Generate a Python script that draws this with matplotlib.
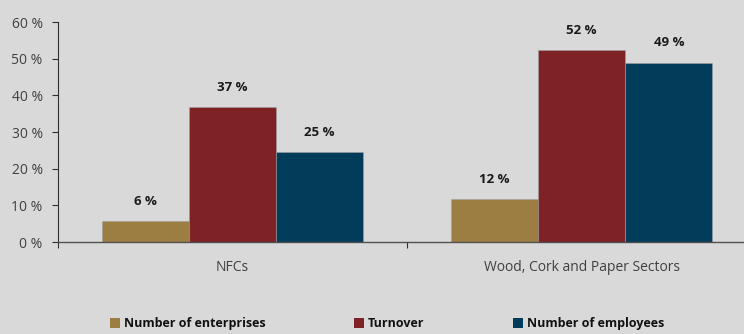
import matplotlib.pyplot as plt
import numpy as np
from matplotlib.patches import Patch

categories = ['NFCs', 'Wood, Cork and Paper Sectors']
series = ['Number of enterprises', 'Turnover', 'Number of employees']
enterprises = [5.6, 11.7]
turnover = [36.7, 52.4]
employees = [24.6, 48.9]
colors = ['#9c7e42', '#7f2226', '#013d5a']
yticks = [0, 10, 20, 30, 40, 50, 60]

plt.rcParams['font.family'] = ['Open Sans', 'DejaVu Sans']
bg = '#d9d9d9'

fig = plt.figure(figsize=(7.44, 3.34), dpi=100, facecolor=bg)
ax = fig.add_axes([58 / 744, (334 - 242) / 334, 698 / 744, 220 / 334])
ax.set_facecolor(bg)

x = np.arange(len(categories))
w = 0.25
for i, (vals, col) in enumerate(zip([enterprises, turnover, employees], colors)):
    pos = x + (i - 1) * w
    ax.bar(pos, vals, width=w, color=col, edgecolor='#a0a0a0', linewidth=0.4)
    for p, v in zip(pos, vals):
        ax.text(p, v + 3.6, f'{v:.0f} %', ha='center', va='bottom',
                fontsize=9.5, fontweight='bold', color='#1a1a1a')

ax.set_xlim(-0.5, 1.5)
ax.set_ylim(0, 60)
ax.set_yticks(yticks)
ax.set_yticklabels([f'{t} %' for t in yticks], fontsize=10, color='#404040')
ax.set_xticks(x)
ax.set_xticklabels(categories, fontsize=10, color='#404040')
ax.tick_params(axis='x', length=0, pad=13)
ax.tick_params(axis='y', length=4, width=0.8, color='#303030', pad=7)
# category separator ticks under the x axis
ax.set_xticks([-0.5, 0.5], minor=True)
ax.tick_params(axis='x', which='minor', length=4, width=0.8, color='#303030')

for s in ['top', 'right']:
    ax.spines[s].set_visible(False)
ax.spines['left'].set_color('#303030')
ax.spines['bottom'].set_color('#505050')
ax.spines['left'].set_linewidth(0.8)
ax.spines['bottom'].set_linewidth(1.0)

handles = [Patch(facecolor=c, edgecolor='none') for c in colors]
leg = fig.legend(handles, series, loc='center', bbox_to_anchor=(0.52, 0.03),
                 ncol=3, frameon=False, handlelength=0.8, handleheight=0.8,
                 handletextpad=0.3, columnspacing=7.1,
                 prop={'weight': 'bold', 'size': 9})
for t in leg.get_texts():
    t.set_color('#111111')

fig.savefig('out.png', dpi=100, facecolor=bg)
